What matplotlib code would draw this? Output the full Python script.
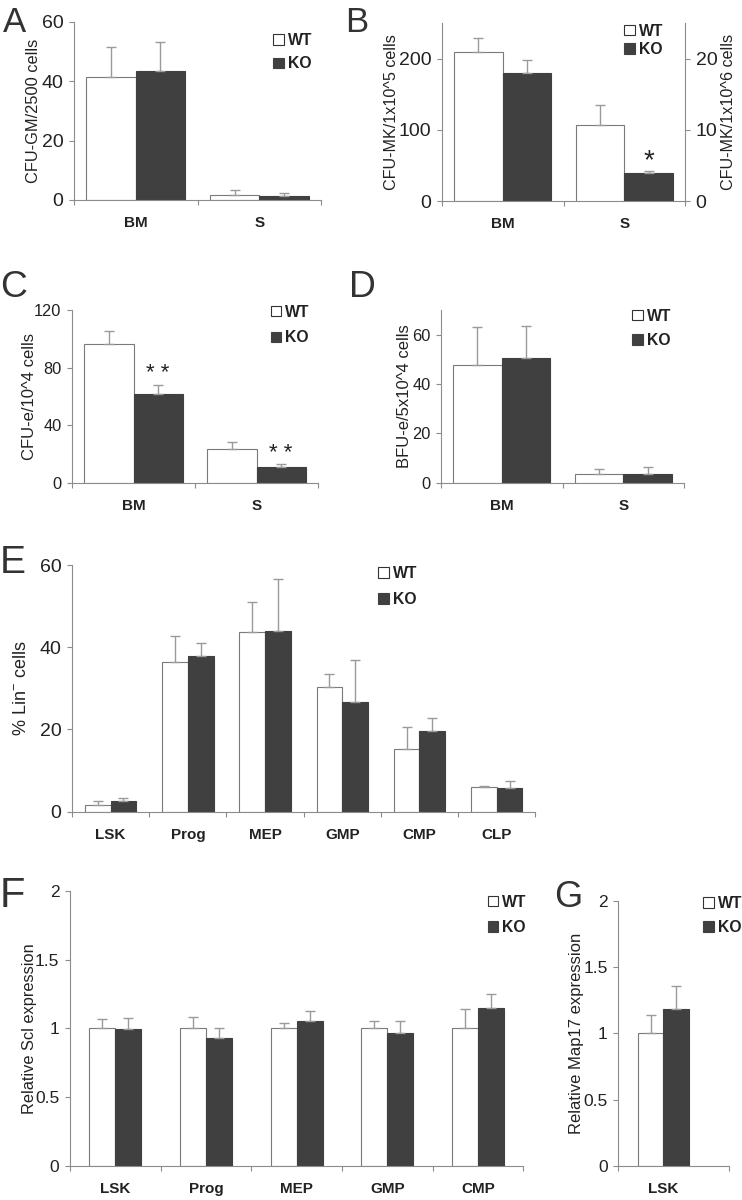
import numpy as np
import matplotlib
matplotlib.use("Agg")
import matplotlib.pyplot as plt
from matplotlib.patches import Patch

plt.rcParams['font.family'] = ['Liberation Sans', 'DejaVu Sans']

# ---------------- data ----------------
# Panel A
a_cats = ["BM", "S"]
a_wt = [41.4, 1.8]
a_wt_err = [10.3, 1.5]
a_ko = [43.5, 1.3]
a_ko_err = [9.9, 0.9]

# Panel B (BM on left axis, per 1x10^5 cells; S on right axis, per 1x10^6 cells)
b_cats = ["BM", "S"]
b_wt_bm, b_wt_bm_err = 209.5, 20.0
b_ko_bm, b_ko_bm_err = 179.5, 19.0
b_wt_s, b_wt_s_err = 10.65, 2.85
b_ko_s, b_ko_s_err = 3.9, 0.32

# Panel C
c_cats = ["BM", "S"]
c_wt = [96.2, 23.2]
c_wt_err = [9.0, 4.9]
c_ko = [61.6, 10.7]
c_ko_err = [6.3, 2.1]

# Panel D
d_cats = ["BM", "S"]
d_wt = [47.7, 3.6]
d_wt_err = [15.3, 2.0]
d_ko = [50.6, 3.6]
d_ko_err = [12.9, 2.6]

# Panel E
e_cats = ["LSK", "Prog", "MEP", "GMP", "CMP", "CLP"]
e_wt = [1.6, 36.3, 43.6, 30.3, 15.2, 6.1]
e_wt_err = [1.0, 6.4, 7.3, 3.1, 5.5, 0.25]
e_ko = [2.6, 37.9, 44.0, 26.8, 19.7, 5.7]
e_ko_err = [0.7, 3.1, 12.6, 10.1, 3.2, 1.7]

# Panel F
f_cats = ["LSK", "Prog", "MEP", "GMP", "CMP"]
f_wt = [1.0, 1.0, 1.0, 1.0, 1.0]
f_wt_err = [0.065, 0.085, 0.036, 0.055, 0.14]
f_ko = [0.993, 0.93, 1.055, 0.966, 1.147]
f_ko_err = [0.08, 0.07, 0.073, 0.09, 0.104]

# Panel G
g_cats = ["LSK"]
g_wt = [1.0]
g_wt_err = [0.14]
g_ko = [1.18]
g_ko_err = [0.18]

# ---------------- style ----------------
W, H = 742, 1200
AXC = '#8c8c8c'
ERRC = '#9a9a9a'
KOC = '#404040'
TXT = '#222222'
LETC = '#333333'

fig = plt.figure(figsize=(W / 100, H / 100), dpi=100)


def add_ax(l, t, r, b):
    return fig.add_axes([l / W, 1 - b / H, (r - l) / W, (b - t) / H])


def style_ax(ax, n, ylim, yticks, ylabels, tick_fs, cats, xl_fs=11):
    ax.set_xlim(-0.5, n - 0.5)
    ax.set_ylim(*ylim)
    for s in ['top', 'right']:
        ax.spines[s].set_visible(False)
    for s in ['left', 'bottom']:
        ax.spines[s].set_color(AXC)
        ax.spines[s].set_linewidth(0.8)
    ax.set_yticks(yticks)
    ax.set_yticklabels(ylabels)
    ax.tick_params(axis='y', direction='out', length=3.6, width=0.8, color=AXC,
                   labelsize=tick_fs, labelcolor=TXT, pad=4)
    ax.set_xticks(np.arange(n + 1) - 0.5)
    ax.set_xticklabels([])
    ax.set_xticks(np.arange(n), minor=True)
    ax.set_xticklabels(cats, minor=True, fontweight='bold', fontsize=xl_fs, color=TXT)
    ax.tick_params(axis='x', which='major', direction='out', length=3.6, width=0.8, color=AXC)
    ax.tick_params(axis='x', which='minor', length=0, pad=11.5)
    ax.spines['left'].set_bounds(ylim[0], ylim[1])


def bars(ax, x, vals, errs, w, face, edge):
    ax.bar(x, vals, width=w, color=face, edgecolor=edge, linewidth=0.8, zorder=2)
    ax.errorbar(x, vals, yerr=[np.zeros(len(vals)), errs], fmt='none', ecolor=ERRC,
                elinewidth=1.0, capsize=3.3, capthick=1.0, zorder=3)


def grouped(ax, wt, wte, ko, koe, w):
    x = np.arange(len(wt))
    bars(ax, x - w / 2, wt, wte, w, 'white', '#7a7a7a')
    bars(ax, x + w / 2, ko, koe, w, KOC, KOC)


def legend(ax, sq_x, wt_y, ko_y, fs=11.3):
    # sq_x, wt_y, ko_y in figure pixels
    row_h = fs * 100 / 72 * 1.117
    sp = (ko_y - wt_y - row_h) / (fs * 100 / 72)
    handles = [Patch(facecolor='white', edgecolor='#333333', linewidth=0.8),
               Patch(facecolor=KOC, edgecolor=KOC, linewidth=0.8)]
    leg = ax.legend(handles, ['WT', 'KO'], loc='upper left',
                    bbox_to_anchor=(sq_x / W, 1 - (wt_y - row_h / 2) / H),
                    bbox_transform=fig.transFigure, frameon=False,
                    prop={'weight': 'bold', 'size': fs}, handlelength=0.68,
                    handleheight=0.68, handletextpad=0.25, labelspacing=sp,
                    borderpad=0, borderaxespad=0)
    for t in leg.get_texts():
        t.set_color(TXT)


def ylab(ax, text, xcoord, fs=12):
    ax.set_ylabel(text, fontsize=fs, color=TXT)
    ax.yaxis.set_label_coords(xcoord, 0.5)


def letter(text, x, base_y, fs):
    fig.text(x / W, 1 - base_y / H, text, fontsize=fs, color=LETC, ha='left', va='baseline')


# ---------------- Panel A ----------------
axA = add_ax(74, 22, 321, 200)
grouped(axA, a_wt, a_wt_err, a_ko, a_ko_err, 0.4)
style_ax(axA, 2, (0, 60), [0, 20, 40, 60], ['0', '20', '40', '60'], 14, a_cats)
ylab(axA, 'CFU-GM/2500 cells', -0.134, 11.8)
legend(axA, 273, 41.7, 67.7)
letter('A', 3, 31.7, 25)

# ---------------- Panel B ----------------
axB = add_ax(442, 23, 685, 201)
w = 0.4
bars(axB, [0 - w / 2], [b_wt_bm], [b_wt_bm_err], w, 'white', '#7a7a7a')
bars(axB, [0 + w / 2], [b_ko_bm], [b_ko_bm_err], w, KOC, KOC)
style_ax(axB, 2, (0, 250), [0, 100, 200], ['0', '100', '200'], 14, b_cats)
axB2 = axB.twinx()
axB2.set_xlim(-0.5, 1.5)
bars(axB2, [1 - w / 2], [b_wt_s], [b_wt_s_err], w, 'white', '#7a7a7a')
bars(axB2, [1 + w / 2], [b_ko_s], [b_ko_s_err], w, KOC, KOC)
axB2.set_ylim(0, 25)
axB2.set_yticks([0, 10, 20])
axB2.set_yticklabels(['0', '10', '20'])
for s in ['top', 'left', 'bottom']:
    axB2.spines[s].set_visible(False)
axB2.spines['right'].set_color(AXC)
axB2.spines['right'].set_linewidth(0.8)
axB2.tick_params(axis='y', direction='out', length=3.6, width=0.8, color=AXC,
                 labelsize=14, labelcolor=TXT, pad=4)
axB2.set_ylabel('CFU-MK/1x10^6 cells', fontsize=11.6, color=TXT)
axB2.yaxis.set_label_coords(1.148, 0.5)
ylab(axB, 'CFU-MK/1x10^5 cells', -0.175, 11.6)
axB2.text(1 + w / 2, 4.6, '*', fontsize=20, ha='center', va='baseline', color=TXT)
legend(axB2, 624.3, 32.3, 53.3)
letter('B', 345, 31.7, 25)

# ---------------- Panel C ----------------
axC = add_ax(72, 310, 318, 482.7)
grouped(axC, c_wt, c_wt_err, c_ko, c_ko_err, 0.4)
style_ax(axC, 2, (0, 120), [0, 40, 80, 120], ['0', '40', '80', '120'], 11.8, c_cats)
ylab(axC, 'CFU-e/10^4 cells', -0.143, 12)
axC.text(0.2, 72.0, '* *', fontsize=16, ha='center', va='baseline', color=TXT)
axC.text(1.2, 16.5, '* *', fontsize=16, ha='center', va='baseline', color=TXT)
legend(axC, 270.7, 313.3, 341.7)
letter('C', 0, 296.7, 26.8)

# ---------------- Panel D ----------------
axD = add_ax(441, 310, 684, 482.7)
grouped(axD, d_wt, d_wt_err, d_ko, d_ko_err, 0.4)
style_ax(axD, 2, (0, 70), [0, 20, 40, 60], ['0', '20', '40', '60'], 11.8, d_cats)
ylab(axD, 'BFU-e/5x10^4 cells', -0.118, 12)
legend(axD, 632, 317.3, 344)
letter('D', 349, 296.7, 26.8)

# ---------------- Panel E ----------------
axE = add_ax(72, 565, 535.3, 811.7)
grouped(axE, e_wt, e_wt_err, e_ko, e_ko_err, 1 / 3)
style_ax(axE, 6, (0, 60), [0, 20, 40, 60], ['0', '20', '40', '60'], 14, e_cats)
ylab(axE, '% Lin$^{\\mathregular{-}}$ cells', -0.0906, 13)
legend(axE, 378.3, 575, 603.3)
letter('E', 0, 573.3, 28)

# ---------------- Panel F ----------------
axF = add_ax(70, 890.7, 523.3, 1166)
grouped(axF, f_wt, f_wt_err, f_ko, f_ko_err, 0.287)
style_ax(axF, 5, (0, 2), [0, 0.5, 1, 1.5, 2], ['0', '0.5', '1', '1.5', '2'], 12.5, f_cats)
ylab(axF, 'Relative Scl expression', -0.0732, 11.8)
legend(axF, 487.7, 903.3, 931)
letter('F', 0, 906.7, 30)

# ---------------- Panel G ----------------
axG = add_ax(618.3, 900.7, 729, 1166)
grouped(axG, g_wt, g_wt_err, g_ko, g_ko_err, 0.23)
style_ax(axG, 1, (0, 2), [0, 0.5, 1, 1.5, 2], ['0', '0.5', '1', '1.5', '2'], 12.5, g_cats)
axG.set_xlim(-0.406, 0.594)
axG.set_xticks([-0.406, 0.594])
axG.set_xticklabels([])
axG.set_xticks([0.0], minor=True)
axG.set_xticklabels(g_cats, minor=True, fontweight='bold', fontsize=11, color=TXT)
ylab(axG, 'Relative Map17 expression', -0.31, 12)
legend(axG, 703.3, 905, 931)
letter('G', 554, 906.7, 26)

fig.savefig('out.png', dpi=100)
